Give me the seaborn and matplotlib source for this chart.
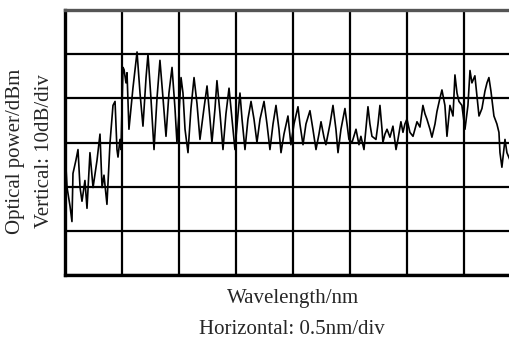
import numpy as np
import pandas as pd
import matplotlib
matplotlib.use('Agg')
import matplotlib.pyplot as plt
import seaborn as sns

# 波長オフセット (nm) と光パワー (dBm) — 画像から読み取り
wavelength = [
    0.000, 0.018, 0.044, 0.061, 0.070, 0.096, 0.114, 0.132, 0.149, 0.175,
    0.193, 0.219, 0.246, 0.281, 0.307, 0.325, 0.342, 0.368, 0.395, 0.421,
    0.439, 0.456, 0.465, 0.482, 0.491, 0.509, 0.518, 0.535, 0.544, 0.561,
    0.596, 0.632, 0.658, 0.684, 0.711, 0.728, 0.754, 0.781, 0.807, 0.833,
    0.860, 0.886, 0.912, 0.939, 0.965, 0.982, 1.000, 1.018, 1.035, 1.053,
    1.079, 1.105, 1.132, 1.158, 1.184, 1.219, 1.246, 1.272, 1.289, 1.316,
    1.333, 1.360, 1.386, 1.412, 1.439, 1.465, 1.491, 1.518, 1.535, 1.553,
    1.579, 1.605, 1.632, 1.658, 1.684, 1.711, 1.746, 1.772, 1.798, 1.825,
    1.851, 1.877, 1.895, 1.921, 1.956, 1.982, 2.009, 2.044, 2.061, 2.088,
    2.114, 2.149, 2.175, 2.202, 2.228, 2.246, 2.272, 2.289, 2.325, 2.351,
    2.377, 2.395, 2.421, 2.456, 2.474, 2.491, 2.518, 2.553, 2.579, 2.596,
    2.623, 2.640, 2.658, 2.675, 2.693, 2.728, 2.746, 2.763, 2.781, 2.789,
    2.807, 2.825, 2.851, 2.877, 2.904, 2.921, 2.947, 2.965, 2.982, 3.000,
    3.026, 3.053, 3.070, 3.088, 3.114, 3.140, 3.158, 3.175, 3.202, 3.219,
    3.246, 3.263, 3.289, 3.307, 3.333, 3.351, 3.377, 3.404, 3.421, 3.439,
    3.456, 3.482, 3.509, 3.535, 3.553, 3.570, 3.596, 3.632, 3.658, 3.684,
    3.702, 3.719, 3.737, 3.763, 3.789, 3.807, 3.816, 3.833, 3.860, 3.877,
    3.904,
]
power = [
    -31.6, -40.2, -44.4, -47.9, -37.0, -34.0, -31.6, -40.2, -43.3, -38.6,
    -44.9, -32.3, -40.2, -34.0, -28.1, -40.2, -37.4, -44.0, -30.0, -21.6,
    -20.7, -31.6, -33.3, -29.3, -31.6, -13.0, -13.5, -16.5, -14.2, -27.0,
    -17.7, -9.5, -18.8, -26.3, -15.3, -10.0, -20.0, -31.6, -20.0, -11.4,
    -20.0, -28.6, -18.8, -13.0, -22.3, -30.0, -23.5, -15.3, -18.8, -27.0,
    -32.3, -22.3, -15.3, -21.2, -29.3, -22.3, -17.2, -24.7, -30.0, -22.3,
    -16.0, -23.5, -31.6, -23.5, -17.7, -24.7, -31.6, -23.5, -18.8, -24.7,
    -31.6, -24.7, -20.7, -24.7, -30.0, -24.7, -20.7, -25.8, -31.6, -25.8,
    -21.6, -27.0, -32.3, -28.1, -24.0, -30.5, -25.8, -21.9, -25.8, -30.5,
    -25.8, -22.8, -27.0, -31.6, -28.1, -25.3, -28.8, -30.5, -25.8, -21.6,
    -27.0, -32.3, -27.0, -22.3, -25.8, -29.3, -30.0, -27.0, -30.5, -28.6,
    -31.6, -27.0, -21.9, -25.8, -28.6, -29.3, -25.8, -21.6, -27.0, -30.0,
    -28.1, -27.0, -28.8, -26.3, -31.6, -29.3, -25.3, -27.7, -25.8, -24.7,
    -27.7, -28.6, -27.0, -25.3, -26.5, -21.6, -23.5, -24.7, -27.0, -28.8,
    -25.8, -23.0, -20.0, -18.1, -21.6, -28.6, -21.6, -24.0, -14.7, -18.8,
    -20.7, -21.6, -27.0, -21.6, -13.7, -16.5, -14.9, -24.0, -22.3, -18.4,
    -16.5, -15.3, -18.4, -24.0, -25.8, -27.7, -32.3, -35.6, -29.3, -32.3,
    -34.0,
]

df = pd.DataFrame({'wl': wavelength, 'p': power})

sns.set_style('white')
plt.rcParams['font.family'] = ['Liberation Serif', 'DejaVu Serif']

fig = plt.figure(figsize=(5.10, 3.38), dpi=100)
ax = fig.add_axes([65 / 510, 63 / 338, 1 - 65 / 510, 265 / 338])

sns.lineplot(data=df, x='wl', y='p', sort=False, estimator=None,
             color='black', linewidth=1.2, ax=ax)

ax.set_xlim(0, 3.904)
ax.set_ylim(-60, 0)
ax.set_xticks(np.arange(0, 4.0, 0.5))
ax.set_yticks(np.arange(-60, 1, 10))
ax.set_xticklabels([])
ax.set_yticklabels([])
ax.tick_params(length=0)
ax.grid(True, color='black', linewidth=1.6)
ax.set_axisbelow(True)
ax.set_xlabel('')
ax.set_ylabel('')

for side in ['left', 'bottom']:
    ax.spines[side].set_color('black')
    ax.spines[side].set_linewidth(2.4)
ax.spines['top'].set_color('#555555')
ax.spines['top'].set_linewidth(2.4)
ax.spines['right'].set_visible(False)

fig.text(293 / 510, 1 - 298 / 338, 'Wavelength/nm', ha='center', va='center', fontsize=15)
fig.text(292 / 510, 1 - 330 / 338, 'Horizontal: 0.5nm/div', ha='center', va='center', fontsize=15)
fig.text(16 / 510, 1 - 151 / 338, 'Optical power/dBm', ha='center', va='center',
         rotation=90, fontsize=15)
fig.text(45 / 510, 1 - 151 / 338, 'Vertical: 10dB/div', ha='center', va='center',
         rotation=90, fontsize=15)

fig.savefig('out.png', dpi=100)
